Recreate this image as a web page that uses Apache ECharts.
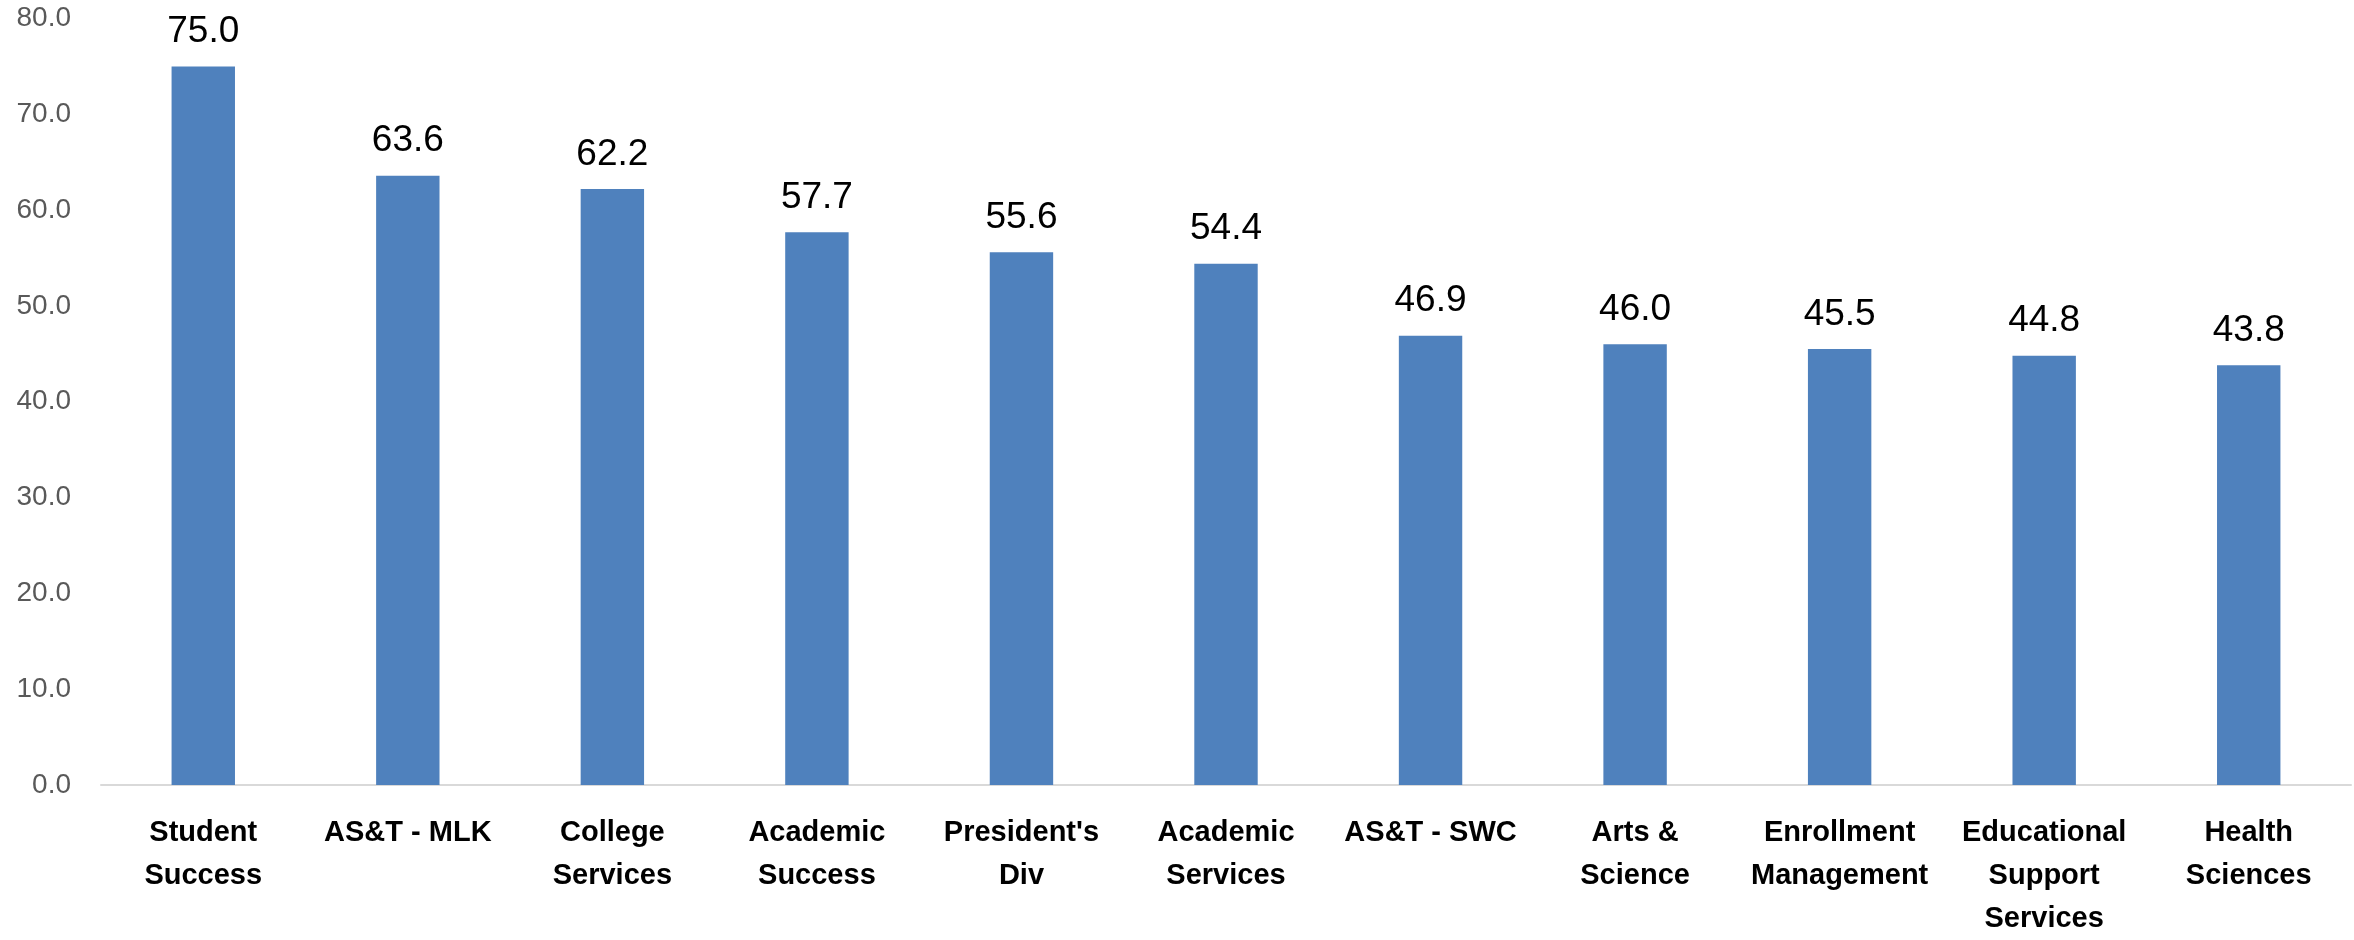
<!DOCTYPE html>
<html>
<head>
<meta charset="utf-8">
<script src="https://cdn.jsdelivr.net/npm/echarts@6/dist/echarts.min.js"></script>
<style>
  html, body { margin: 0; padding: 0; background: #fff; }
  #chart { width: 2354px; height: 940px; }
</style>
</head>
<body>
<div id="chart"></div>
<script>
// categories (line breaks as in the original axis labels)
const categories = [
  "Student\nSuccess",
  "AS&T - MLK",
  "College\nServices",
  "Academic\nSuccess",
  "President's\nDiv",
  "Academic\nServices",
  "AS&T - SWC",
  "Arts &\nScience",
  "Enrollment\nManagement",
  "Educational\nSupport\nServices",
  "Health\nSciences"
];
const values = [75.0, 63.6, 62.2, 57.7, 55.6, 54.4, 46.9, 46.0, 45.5, 44.8, 43.8];
const yMin = 0, yMax = 80, yStep = 10;

const chart = echarts.init(document.getElementById("chart"));
chart.setOption({
  animation: false,
  grid: { left: 101, right: 3, top: 18.5, bottom: 145, containLabel: false },
  xAxis: {
    type: "category",
    data: categories,
    axisLine: { lineStyle: { color: "#d9d9d9", width: 2 } },
    axisTick: { show: false },
    axisLabel: {
      interval: 0,
      margin: 26,
      color: "#000",
      fontFamily: "Liberation Sans",
      fontWeight: "bold",
      fontSize: 29,
      lineHeight: 43
    }
  },
  yAxis: {
    type: "value",
    min: yMin,
    max: yMax,
    interval: yStep,
    splitLine: { show: false },
    axisLine: { show: false },
    axisTick: { show: false },
    axisLabel: {
      margin: 30,
      color: "#595959",
      fontFamily: "Liberation Sans",
      fontSize: 28,
      formatter: v => v.toFixed(1)
    }
  },
  series: [{
    type: "bar",
    data: values,
    barWidth: "31%",
    itemStyle: { color: "#4F81BD" },
    label: {
      show: true,
      position: "top",
      distance: 16,
      color: "#000",
      fontFamily: "Liberation Sans",
      fontSize: 37,
      formatter: p => p.value.toFixed(1)
    }
  }]
});
</script>
</body>
</html>
